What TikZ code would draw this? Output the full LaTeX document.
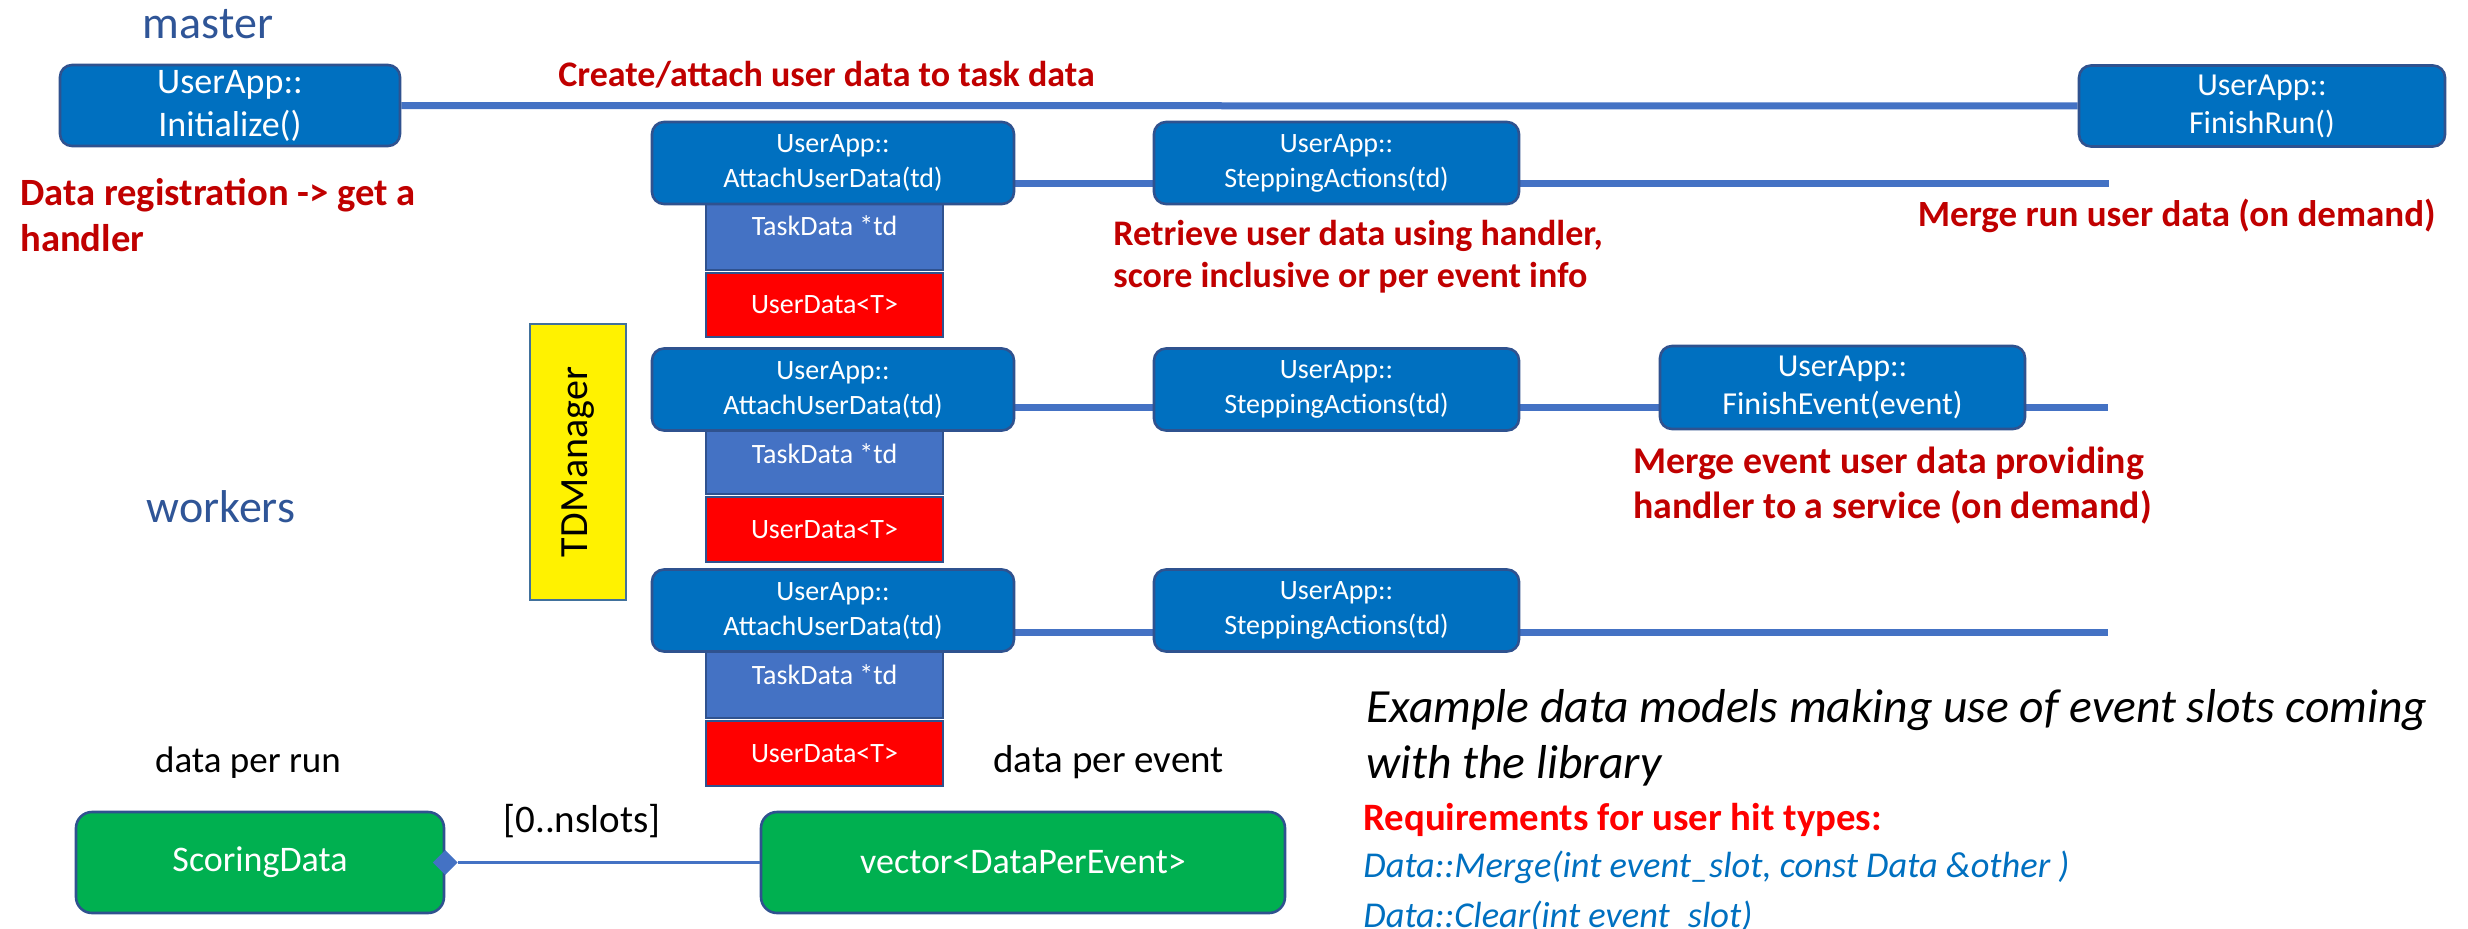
\documentclass[tikz,border=0pt]{standalone}
\usepackage{fontspec}
\setmainfont{Carlito}
\usetikzlibrary{backgrounds,shapes.geometric}
\definecolor{boxblue}{HTML}{0070C0}
\definecolor{edgeblue}{HTML}{2F528F}
\definecolor{laneblue}{HTML}{4472C4}
\definecolor{darkred}{HTML}{C00000}
\definecolor{titleblue}{HTML}{2F5597}
\definecolor{greenbox}{HTML}{00B050}
\definecolor{tdedge}{HTML}{41719C}
\tikzset{
  appbox/.style={draw=edgeblue, line width=1.3pt, fill=boxblue, rounded corners=6pt,
    text=white, align=center, inner sep=0pt},
  smallapp/.style={appbox, minimum width=181pt, minimum height=41pt,
    font=\fontsize{14}{17.5}\selectfont},
  lane/.style={draw=laneblue, line width=3.5pt},
  taskbox/.style={draw=edgeblue, line width=1pt, fill=laneblue, minimum width=118.5pt, inner sep=0pt},
  userbox/.style={draw=edgeblue, line width=1pt, fill=red, minimum width=118.5pt, inner sep=0pt,
    text=white, font=\fontsize{14}{17}\selectfont},
  tasklbl/.style={anchor=base, text=white, inner sep=0pt, font=\fontsize{14}{17}\selectfont},
  note/.style={anchor=base west, inner sep=0pt, text=darkred, font=\bfseries\fontsize{18}{22}\selectfont},
  title/.style={anchor=base, inner sep=0pt, text=titleblue, font=\fontsize{23}{28}\selectfont},
  plain/.style={anchor=base, inner sep=0pt, text=black, font=\fontsize{18.5}{22}\selectfont},
  greenbx/.style={draw=edgeblue, line width=1.3pt, fill=greenbox, rounded corners=8pt,
    text=white, inner sep=0pt, minimum height=50.5pt, font=\fontsize{18}{22}\selectfont},
  example/.style={anchor=base west, inner sep=0pt, text=black, font=\itshape\fontsize{23.8}{28}\selectfont},
  reqline/.style={anchor=base west, inner sep=0pt, text=boxblue, font=\itshape\fontsize{18.2}{22}\selectfont},
}
\begin{document}
\begin{tikzpicture}[x=0.5pt, y=-0.5pt]
\useasboundingbox (0,0) rectangle (2468,928);

% titles
\node[title] (master) at (208,38) {master};
\node[title] (workers) at (221,522) {workers};

% master lane boxes
\node[appbox, minimum width=170pt, minimum height=40.5pt, font=\fontsize{18}{21.5}\selectfont]
  (init) at (230,105.5) {UserApp::\\Initialize()};
\node[appbox, minimum width=183pt, minimum height=40.5pt, font=\fontsize{16}{19}\selectfont]
  (finrun) at (2262,106) {UserApp::\\FinishRun()};

% task data stacks
\node[taskbox, minimum height=33.5pt] (td1) at (824.5,236.5) {};
\node[userbox, minimum height=32pt] (ud1) at (824.5,305) {UserData<T>};
\node[tasklbl] (tl1) at (824.5,235) {TaskData *td};
\node[taskbox, minimum height=31.5pt] (td2) at (824.5,462.5) {};
\node[userbox, minimum height=32.5pt] (ud2) at (824.5,529.5) {UserData<T>};
\node[tasklbl] (tl2) at (824.5,463) {TaskData *td};
\node[taskbox, minimum height=33pt] (td3) at (824.5,685) {};
\node[userbox, minimum height=32.5pt] (ud3) at (824.5,753.5) {UserData<T>};
\node[tasklbl] (tl3) at (824.5,684) {TaskData *td};

% worker boxes
\node[smallapp] (attach1) at (833,163) {UserApp::\\AttachUserData(td)};
\node[smallapp, minimum width=182.5pt] (step1) at (1336.5,163) {UserApp::\\SteppingActions(td)};
\node[smallapp] (attach2) at (833,389.5) {UserApp::\\AttachUserData(td)};
\node[smallapp, minimum width=182.5pt] (step2) at (1336.5,389.5) {UserApp::\\SteppingActions(td)};
\node[appbox, minimum width=182.5pt, minimum height=41.5pt, font=\fontsize{16}{19}\selectfont]
  (finev) at (1842.5,387.5) {UserApp::\\FinishEvent(event)};
\node[smallapp] (attach3) at (833,610.5) {UserApp::\\AttachUserData(td)};
\node[smallapp, minimum width=182.5pt] (step3) at (1336.5,610.5) {UserApp::\\SteppingActions(td)};

% TDManager
\node[draw=tdedge, line width=1.2pt, fill=yellow, rotate=90, minimum width=138pt, minimum height=48pt,
  inner sep=0pt, font=\fontsize{20}{24}\selectfont] (tdm) at (578,462) {TDManager};

% lanes
\coordinate (r1end) at (2109,183);
\coordinate (r2end) at (2108,407);
\coordinate (r3end) at (2108,632);
\begin{scope}[on background layer]
  \draw[lane] (init) -- (finrun);
  \draw[lane] (attach1.center |- r1end) -- (step1.center |- r1end) -- (r1end);
  \draw[lane] (attach2.center |- r2end) -- (step2.center |- r2end) -- (finev.center |- r2end) -- (r2end);
  \draw[lane] (attach3.center |- r3end) -- (step3.center |- r3end) -- (r3end);
\end{scope}

% notes
\node[note] (n1) at (558,86) {Create/attach user data to task data};
\node[note, font=\bfseries\fontsize{19.3}{23}\selectfont] (n2a) at (20,205) {Data registration -> get a};
\node[note, font=\bfseries\fontsize{19.3}{23}\selectfont] (n2b) at (20,251) {handler};
\node[note] (n3a) at (1113,245) {Retrieve user data using handler,};
\node[note] (n3b) at (1113,287) {score inclusive or per event info};
\node[note, anchor=base east, font=\bfseries\fontsize{18.5}{22}\selectfont] (n4) at (2436,226) {Merge run user data (on demand)};
\node[note, font=\bfseries\fontsize{18.9}{23}\selectfont] (n5a) at (1633,473) {Merge event user data providing};
\node[note, font=\bfseries\fontsize{18.9}{23}\selectfont] (n5b) at (1633,518) {handler to a service (on demand)};

% data model
\node[plain] (dpr) at (248,772) {data per run};
\node[plain, anchor=base west, font=\fontsize{19.5}{23}\selectfont] (dpe) at (993,772) {data per event};
\node[greenbx, minimum width=184pt] (scoring) at (260,862.5) {ScoringData};
\node[greenbx, minimum width=262pt] (vec) at (1023,862.5) {vector<DataPerEvent>};
\node[diamond, fill=laneblue, inner sep=0pt, minimum width=12.5pt, minimum height=12.5pt] (dia) at (scoring.east) {};
\draw[laneblue, line width=1.2pt] (dia.east) -- (vec.west);
\node[plain, font=\fontsize{19.5}{23}\selectfont] (slots) at (582,832) {[0..nslots]};

% example text
\node[example] (ex1) at (1366,722) {Example data models making use of event slots coming};
\node[example] (ex2) at (1366,778) {with the library};
\node[note, text=red, font=\bfseries\fontsize{19.4}{23}\selectfont] (req) at (1363,830) {Requirements for user hit types:};
\node[reqline] (rq1) at (1363,877) {Data::Merge(int event\_slot, const Data \&other )};
\node[reqline] (rq2) at (1363,927) {Data::Clear(int event\_slot)};
\end{tikzpicture}
\end{document}
